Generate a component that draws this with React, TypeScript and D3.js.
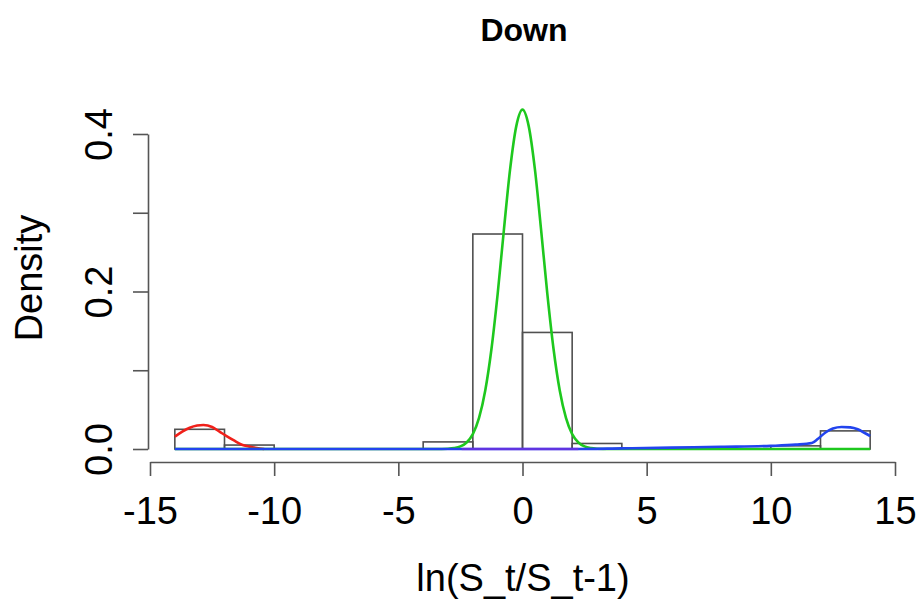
import * as d3 from 'd3';
import React, { useEffect, useRef } from 'react';

// histogram of ln(S_t/S_t-1), breaks every 2
const breaks = [-14, -12, -10, -8, -6, -4, -2, 0, 2, 4, 6, 8, 10, 12, 14];
const densities = [0.025, 0.005, 0, 0, 0, 0.009, 0.273, 0.148, 0.007, 0, 0, 0, 0.004, 0.023];

// fitted component curves
const redX = [-14, -13.7, -13.4, -13.1, -12.85, -12.5, -12.2, -11.9, -11.6, -11.3, -11.0, -10.7, -10.4];
const redY = [0.0157, 0.022, 0.027, 0.0298, 0.0305, 0.028, 0.022, 0.016, 0.0105, 0.0055, 0.003, 0.0012, 0];

const greenX = [-14, -3.5, -3, -2.75, -2.5, -2.25, -2, -1.75, -1.5, -1.25, -1, -0.75, -0.5, -0.25, 0,
    0.25, 0.5, 0.75, 1, 1.25, 1.5, 1.75, 2, 2.25, 2.5, 2.75, 3, 3.5, 14];
const greenY = [0, 0, 0.0004, 0.0012, 0.0033, 0.0083, 0.0189, 0.0394, 0.0743, 0.127, 0.197, 0.278, 0.355, 0.41, 0.431,
    0.41, 0.355, 0.278, 0.197, 0.127, 0.0743, 0.0394, 0.0189, 0.0083, 0.0033, 0.0012, 0.0004, 0, 0];

const blueX = [-14, 2, 4, 6, 8, 10, 11, 11.65, 11.9, 12.2, 12.5, 12.85, 13.2, 13.5, 13.8, 14.0];
const blueY = [0, 0, 0.0008, 0.0018, 0.0028, 0.004, 0.0055, 0.0075, 0.013, 0.021, 0.026, 0.028, 0.0275, 0.025, 0.02, 0.0165];

const purpleX = [-2.45, 2.25];
const purpleY = [0, 0];

const xTicks = [-15, -10, -5, 0, 5, 10, 15];
const xTickLabels = ['-15', '-10', '-5', '0', '5', '10', '15'];
const yTicks = [0, 0.1, 0.2, 0.3, 0.4];
const yTickLabels = ['0.0', '', '0.2', '', '0.4'];

const font = 'Liberation Sans, Arial, Helvetica, sans-serif';

const App = () => {
    const d3Container = useRef(null);
    const width = 923;
    const height = 614;

    useEffect(() => {
        const svg = d3.select(d3Container.current);
        svg.selectAll('*').remove();

        const x = d3.scaleLinear().domain([-15, 15]).range([150, 895]);
        const y = d3.scaleLinear().domain([0, 0.4]).range([449, 134]);

        // histogram bars
        const bins = densities.map((d, i) => ({ x0: breaks[i], x1: breaks[i + 1], d }));
        svg.append('g')
            .selectAll('rect')
            .data(bins)
            .enter()
            .append('rect')
            .attr('x', (b) => x(b.x0))
            .attr('width', (b) => x(b.x1) - x(b.x0))
            .attr('y', (b) => y(b.d))
            .attr('height', (b) => y(0) - y(b.d))
            .attr('fill', 'none')
            .attr('stroke', '#505050')
            .attr('stroke-width', 1.6);

        const line = d3.line()
            .x((p) => x(p[0]))
            .y((p) => y(p[1]))
            .curve(d3.curveMonotoneX);

        const drawCurve = (xs, ys, color, opacity) => {
            svg.append('path')
                .datum(xs.map((v, i) => [v, ys[i]]))
                .attr('d', line)
                .attr('fill', 'none')
                .attr('stroke', color)
                .attr('stroke-opacity', opacity)
                .attr('stroke-width', 2.6);
        };
        drawCurve(redX, redY, '#f0201a', 1);
        drawCurve(greenX, greenY, '#1ec81e', 1);
        drawCurve(blueX, blueY, '#2244ee', 1);
        drawCurve(purpleX, purpleY, '#8a2ad8', 0.6);

        // x axis
        const gx = svg.append('g')
            .attr('transform', 'translate(0,462)')
            .call(d3.axisBottom(x).tickValues(xTicks).tickSize(14).tickSizeOuter(0)
                .tickFormat((d, i) => xTickLabels[i]));
        gx.selectAll('text')
            .attr('y', 62)
            .attr('dy', 0)
            .attr('fill', '#000')
            .style('font-size', '38px')
            .style('font-family', font);

        // y axis
        const gy = svg.append('g')
            .attr('transform', 'translate(148,0)')
            .call(d3.axisLeft(y).tickValues(yTicks).tickSize(15).tickSizeOuter(0)
                .tickFormat((d, i) => yTickLabels[i]));
        gy.selectAll('text')
            .attr('x', 0)
            .attr('dy', 0)
            .attr('text-anchor', 'middle')
            .attr('transform', 'translate(-36,0) rotate(-90)')
            .attr('fill', '#000')
            .style('font-size', '38px')
            .style('font-family', font);

        svg.selectAll('.domain, .tick line')
            .attr('stroke', '#555')
            .attr('stroke-width', 1.6);

        // titles
        svg.append('text')
            .attr('x', 524)
            .attr('y', 41)
            .attr('text-anchor', 'middle')
            .style('font-family', font)
            .style('font-weight', 'bold')
            .style('font-size', '32px')
            .text('Down');

        svg.append('text')
            .attr('x', 523)
            .attr('y', 591)
            .attr('text-anchor', 'middle')
            .style('font-family', font)
            .style('font-size', '38px')
            .text('ln(S_t/S_t-1)');

        svg.append('text')
            .attr('transform', 'translate(42,278) rotate(-90)')
            .attr('text-anchor', 'middle')
            .style('font-family', font)
            .style('font-size', '38px')
            .text('Density');
    }, []);

    return (
        <div>
            <svg ref={d3Container} width={width} height={height}
                style={{ position: 'absolute', left: 0, top: 0, background: '#fff' }}>
            </svg>
        </div>
    );
};

export default App;
